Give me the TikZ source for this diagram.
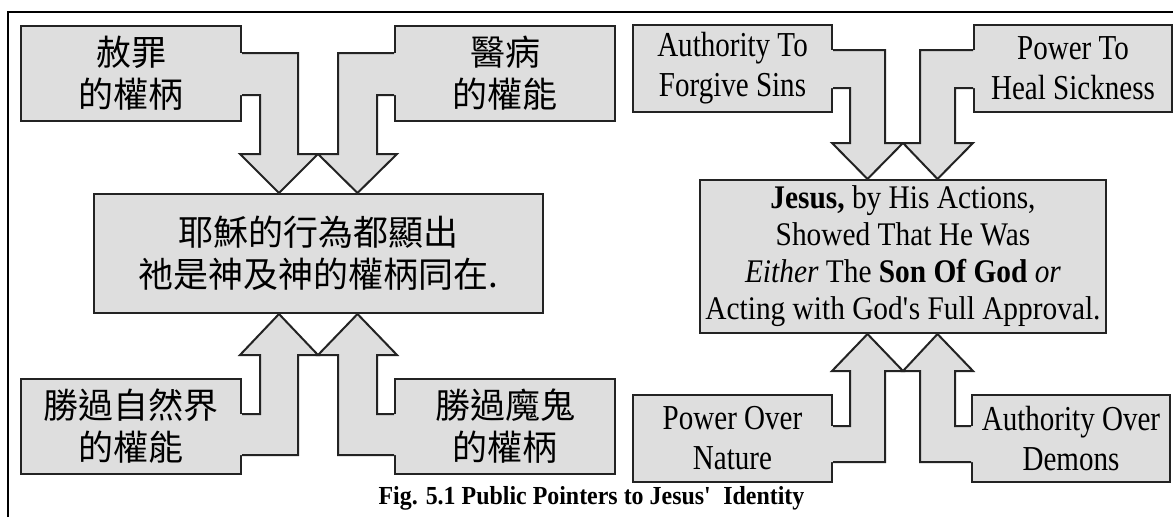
\documentclass[tikz,border=0pt]{standalone}
\usepackage{fontspec}
\setmainfont{Liberation Serif}
\newfontfamily\cjk{Noto Sans CJK TC}
\newfontfamily\condA[FakeStretch=0.83]{Liberation Serif}
\newfontfamily\condB[FakeStretch=0.89]{Liberation Serif}
\newfontfamily\condC[FakeStretch=0.92]{Liberation Serif}
\definecolor{boxc}{RGB}{222,222,222}
\definecolor{linec}{RGB}{35,35,35}
\begin{document}
\begin{tikzpicture}[x=1pt,y=-1pt,
 boxst/.style={draw=linec,fill=boxc,line width=2pt,inner sep=0pt,align=center},
 arrfill/.style={fill=boxc},
 arrline/.style={draw=linec,line width=2pt,line join=miter},
 zh/.style={font=\cjk\fontsize{35}{42}\selectfont},
 en/.style={font=\condA\fontsize{35}{40}\selectfont},
]
\useasboundingbox (0,0) rectangle (1173,517);
\draw[line width=1.5pt] (8,517) -- (8,12) -- (1173,12);

% left half boxes
\node[boxst,zh,minimum width=220,minimum height=95] (A) at (131,73.5) {赦罪\\的權柄};
\node[boxst,zh,minimum width=220,minimum height=95] (B) at (505,73.5) {醫病\\的權能};
\node[boxst,zh,minimum width=449,minimum height=119] (C) at (318.5,253.5) {耶穌的行為都顯出\\祂是神及神的權柄同在.};
\node[boxst,zh,minimum width=220,minimum height=95] (D) at (131,426.5) {勝過自然界\\的權能};
\node[boxst,zh,minimum width=220,minimum height=95] (E) at (505,426.5) {勝過魔鬼\\的權柄};

% right half boxes
\node[boxst,en,minimum width=199,minimum height=87] (F) at (732.5,68.5) {Authority To\\Forgive Sins};
\node[boxst,en,minimum width=198,minimum height=87] (G) at (1073,68.5) {Power To\\Heal Sickness};
\node[boxst,font=\condB\fontsize{33}{37}\selectfont,minimum width=406,minimum height=153] (H) at (903,256.5)
 {\textbf{Jesus,} by His Actions,\\Showed That He Was\\\textit{Either} The \textbf{Son Of God} \textit{or}\\Acting with God\textquotesingle s Full Approval.};
\node[boxst,en,minimum width=199,minimum height=87] (I) at (732.5,438.5) {Power Over\\Nature};
\node[boxst,en,minimum width=198,minimum height=87] (J) at (1071,438.5) {Authority Over\\Demons};

% arrows, left half
\fill[arrfill] (239.8,53) -- (298,53) -- (298,154) -- (318,154) -- (279,194) -- (240,154) -- (260,154) -- (260,95) -- (239.8,95) -- cycle;
\draw[arrline] (A.east |- 0,53) -- (298,53) -- (298,154) -- (318,154) -- (C.north -| 279,0) -- (240,154) -- (260,154) -- (260,95) -- (A.east |- 0,95);
\fill[arrfill] (396.2,53) -- (338,53) -- (338,154) -- (318,154) -- (357.5,194) -- (397,154) -- (377,154) -- (377,95) -- (396.2,95) -- cycle;
\draw[arrline] (B.west |- 0,53) -- (338,53) -- (338,154) -- (318,154) -- (C.north -| 357.5,0) -- (397,154) -- (377,154) -- (377,95) -- (B.west |- 0,95);
\fill[arrfill] (239.8,455) -- (298,455) -- (298,355) -- (318,355) -- (279,313) -- (240,355) -- (260,355) -- (260,414) -- (239.8,414) -- cycle;
\draw[arrline] (D.east |- 0,455) -- (298,455) -- (298,355) -- (318,355) -- (C.south -| 279,0) -- (240,355) -- (260,355) -- (260,414) -- (D.east |- 0,414);
\fill[arrfill] (396.2,455) -- (338,455) -- (338,355) -- (318,355) -- (357.5,313) -- (397,355) -- (377,355) -- (377,414) -- (396.2,414) -- cycle;
\draw[arrline] (E.west |- 0,455) -- (338,455) -- (338,355) -- (318,355) -- (C.south -| 357.5,0) -- (397,355) -- (377,355) -- (377,414) -- (E.west |- 0,414);

% arrows, right half
\fill[arrfill] (830.8,50) -- (885,50) -- (885,143) -- (903,143) -- (867.5,180) -- (832,143) -- (850,143) -- (850,88) -- (830.8,88) -- cycle;
\draw[arrline] (F.east |- 0,50) -- (885,50) -- (885,143) -- (903,143) -- (H.north -| 867.5,0) -- (832,143) -- (850,143) -- (850,88) -- (F.east |- 0,88);
\fill[arrfill] (975.2,50) -- (920,50) -- (920,143) -- (903,143) -- (937.5,180) -- (973,143) -- (955,143) -- (955,88) -- (975.2,88) -- cycle;
\draw[arrline] (G.west |- 0,50) -- (920,50) -- (920,143) -- (903,143) -- (H.north -| 937.5,0) -- (973,143) -- (955,143) -- (955,88) -- (G.west |- 0,88);
\fill[arrfill] (830.8,462) -- (885,462) -- (885,371) -- (903,371) -- (867.5,333) -- (832,371) -- (850,371) -- (850,426) -- (830.8,426) -- cycle;
\draw[arrline] (I.east |- 0,462) -- (885,462) -- (885,371) -- (903,371) -- (H.south -| 867.5,0) -- (832,371) -- (850,371) -- (850,426) -- (I.east |- 0,426);
\fill[arrfill] (973.2,462) -- (920,462) -- (920,371) -- (903,371) -- (937.5,333) -- (973,371) -- (955,371) -- (955,426) -- (973.2,426) -- cycle;
\draw[arrline] (J.west |- 0,462) -- (920,462) -- (920,371) -- (903,371) -- (H.south -| 937.5,0) -- (973,371) -- (955,371) -- (955,426) -- (J.west |- 0,426);

% caption
\node[font=\condC\bfseries\fontsize{26}{30}\selectfont,anchor=base,inner sep=0pt] (cap) at (591.5,504) {Fig. 5.1 Public Pointers to Jesus\textquotesingle\ \ Identity};
\end{tikzpicture}
\end{document}
